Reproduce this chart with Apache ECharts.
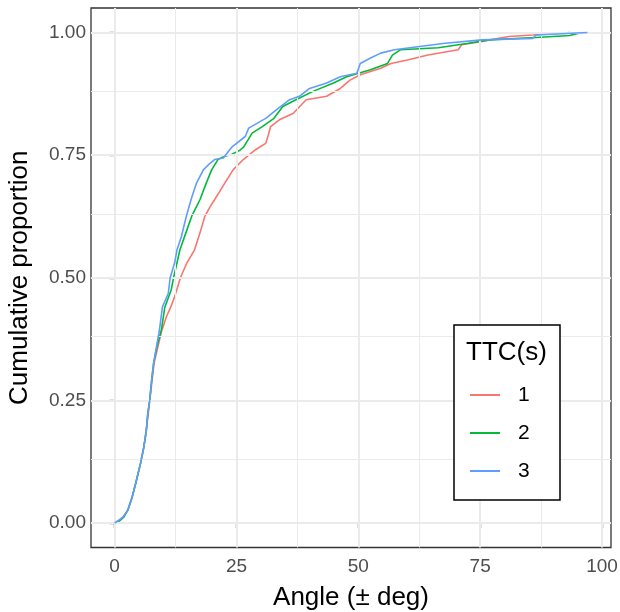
<!DOCTYPE html>
<html><head><meta charset="utf-8">
<script src="https://cdn.jsdelivr.net/npm/echarts@6/dist/echarts.min.js"></script>
<style>html,body{margin:0;padding:0;background:#fff}#c{width:620px;height:612px}</style>
</head><body><div id="c"></div>
<script>
const seriesNames = ['1', '2', '3'];
const ttc1 = [[0,0],[0.8,0.005],[1.7,0.012],[2.7,0.026],[3.6,0.053],[4.3,0.08],[5.3,0.121],[6.0,0.155],[6.5,0.189],[6.9,0.223],[7.2,0.25],[7.7,0.292],[8.1,0.326],[8.9,0.36],[9.6,0.39],[10.6,0.42],[11.5,0.44],[12.3,0.461],[13.5,0.5],[14.8,0.53],[16.4,0.557],[17.5,0.591],[18.5,0.625],[19.6,0.645],[20.5,0.659],[21.5,0.675],[22.6,0.693],[24.3,0.72],[26.4,0.741],[28.9,0.761],[31.0,0.774],[31.5,0.79],[32.0,0.808],[33.8,0.822],[36.6,0.835],[39.3,0.863],[43.5,0.87],[46.3,0.886],[48.3,0.903],[50.4,0.914],[54.6,0.927],[56.7,0.937],[60.1,0.944],[64.3,0.954],[70.5,0.965],[71.2,0.975],[75.4,0.982],[80.9,0.992],[85.8,0.995],[93.5,1.0]];
const ttc2 = [[0,0],[1.0,0.004],[1.9,0.012],[2.7,0.026],[3.6,0.053],[4.3,0.08],[5.3,0.121],[6.0,0.155],[6.5,0.189],[6.8,0.223],[7.2,0.25],[7.6,0.292],[8.0,0.326],[8.7,0.36],[9.6,0.394],[10.3,0.44],[11.6,0.475],[12.1,0.5],[13.4,0.557],[14.6,0.591],[15.8,0.625],[17.5,0.659],[18.8,0.693],[19.9,0.72],[21.2,0.741],[22.6,0.748],[24.1,0.752],[25.7,0.76],[26.5,0.767],[28.2,0.795],[30.3,0.808],[32.7,0.825],[34.5,0.849],[37.2,0.863],[40.7,0.88],[44.9,0.897],[47.6,0.91],[52.5,0.924],[56.0,0.937],[57.0,0.954],[58.7,0.965],[66.4,0.969],[72.6,0.978],[76.8,0.985],[86.5,0.99],[93.4,0.994],[95.8,1.0]];
const ttc3 = [[0,0],[0.8,0.005],[1.7,0.012],[2.7,0.026],[3.6,0.053],[4.3,0.08],[5.3,0.121],[6.0,0.155],[6.5,0.189],[6.8,0.223],[7.2,0.25],[7.6,0.292],[8.0,0.326],[8.6,0.36],[9.2,0.394],[9.8,0.44],[11.0,0.468],[11.4,0.5],[12.3,0.53],[12.8,0.557],[13.7,0.584],[14.7,0.625],[15.7,0.66],[16.8,0.693],[18.2,0.72],[19.2,0.73],[20.5,0.741],[22.3,0.744],[24.1,0.767],[26.8,0.788],[27.5,0.805],[31.0,0.825],[33.1,0.842],[35.9,0.863],[37.9,0.87],[40.0,0.886],[43.5,0.897],[46.3,0.91],[49.7,0.917],[50.4,0.937],[52.5,0.948],[54.6,0.958],[57.4,0.965],[62.2,0.971],[67.8,0.978],[75.4,0.985],[85.8,0.988],[86.5,0.995],[97.0,1.0]];
const xTicks = [0, 25, 50, 75, 100];
const xMinor = [12.5, 37.5, 62.5, 87.5];
const yTicks = [0, 0.25, 0.5, 0.75, 1];
const yMinor = [0.125, 0.375, 0.625, 0.875];
const colors = ['#F8766D', '#00BA38', '#619CFF'];

const FONT = 'Liberation Sans, Arial, sans-serif';
const chart = echarts.init(document.getElementById('c'), null, {renderer: 'canvas'});
const gridColor = '#EBEBEB';
const gridLines = []
  .concat(xMinor.map(v => ({xAxis: v, lineStyle: {width: 1, color: gridColor, type: 'solid'}})))
  .concat(yMinor.map(v => ({yAxis: v, lineStyle: {width: 1, color: gridColor, type: 'solid'}})))
  .concat(xTicks.map(v => ({xAxis: v, lineStyle: {width: 2, color: gridColor, type: 'solid'}})))
  .concat(yTicks.map(v => ({yAxis: v, lineStyle: {width: 2, color: gridColor, type: 'solid'}})));

const dataSets = [ttc1, ttc2, ttc3];
const series = [{
  type: 'line', name: '_grid', data: [], z: 0, silent: true,
  markLine: {silent: true, symbol: ['none', 'none'], animation: false, label: {show: false}, data: gridLines}
}].concat(seriesNames.map((n, i) => ({
  type: 'line', name: n, data: dataSets[i], showSymbol: false, symbol: 'none', z: 3 + i,
  lineStyle: {color: colors[i], width: 1.6}, itemStyle: {color: colors[i]}, animation: false
})));

chart.setOption({
  animation: false,
  grid: {left: 91, right: 9, top: 8, bottom: 64.5, show: true, borderColor: '#333333', borderWidth: 1.3,
    backgroundColor: 'transparent', containLabel: false, outerBoundsMode: 'none'},
  xAxis: {
    type: 'value', min: -4.85, max: 101.85,
    name: 'Angle (± deg)', nameLocation: 'middle', nameGap: 37,
    nameTextStyle: {fontFamily: FONT, fontSize: 26, color: '#000'},
    axisLine: {show: false}, splitLine: {show: false},
    axisTick: {show: true, customValues: xTicks, length: 5, lineStyle: {color: '#333333', width: 1.3}},
    axisLabel: {customValues: xTicks, fontFamily: FONT, fontSize: 19, color: '#4D4D4D', margin: 10}
  },
  yAxis: {
    type: 'value', min: -0.05, max: 1.05,
    name: 'Cumulative proportion', nameLocation: 'middle', nameGap: 58, nameRotate: 90,
    nameTextStyle: {fontFamily: FONT, fontSize: 26, color: '#000'},
    axisLine: {show: false}, splitLine: {show: false},
    axisTick: {show: true, customValues: yTicks, length: 5, lineStyle: {color: '#333333', width: 1.3}},
    axisLabel: {customValues: yTicks, fontFamily: FONT, fontSize: 19, color: '#4D4D4D', margin: 5,
      formatter: v => v.toFixed(2)}
  },
  legend: {
    data: seriesNames.map(n => ({name: n, icon: 'rect'})),
    orient: 'vertical', left: 465, top: 379, z: 30, zlevel: 0,
    itemWidth: 30, itemHeight: 2, itemGap: 16,
    textStyle: {fontFamily: FONT, fontSize: 21, color: '#000', lineHeight: 22, padding: [0, 0, 0, 13]}
  },
  graphic: [
    {type: 'rect', shape: {x: 454, y: 325, width: 106, height: 175}, style: {fill: '#fff', stroke: '#000', lineWidth: 1.5}, z: 10, silent: true},
    {type: 'text', left: 466, top: 340, style: {text: 'TTC(s)', fontFamily: FONT, fontSize: 26, fill: '#000'}, z: 11, silent: true}
  ],
  series: series
});
</script></body></html>
